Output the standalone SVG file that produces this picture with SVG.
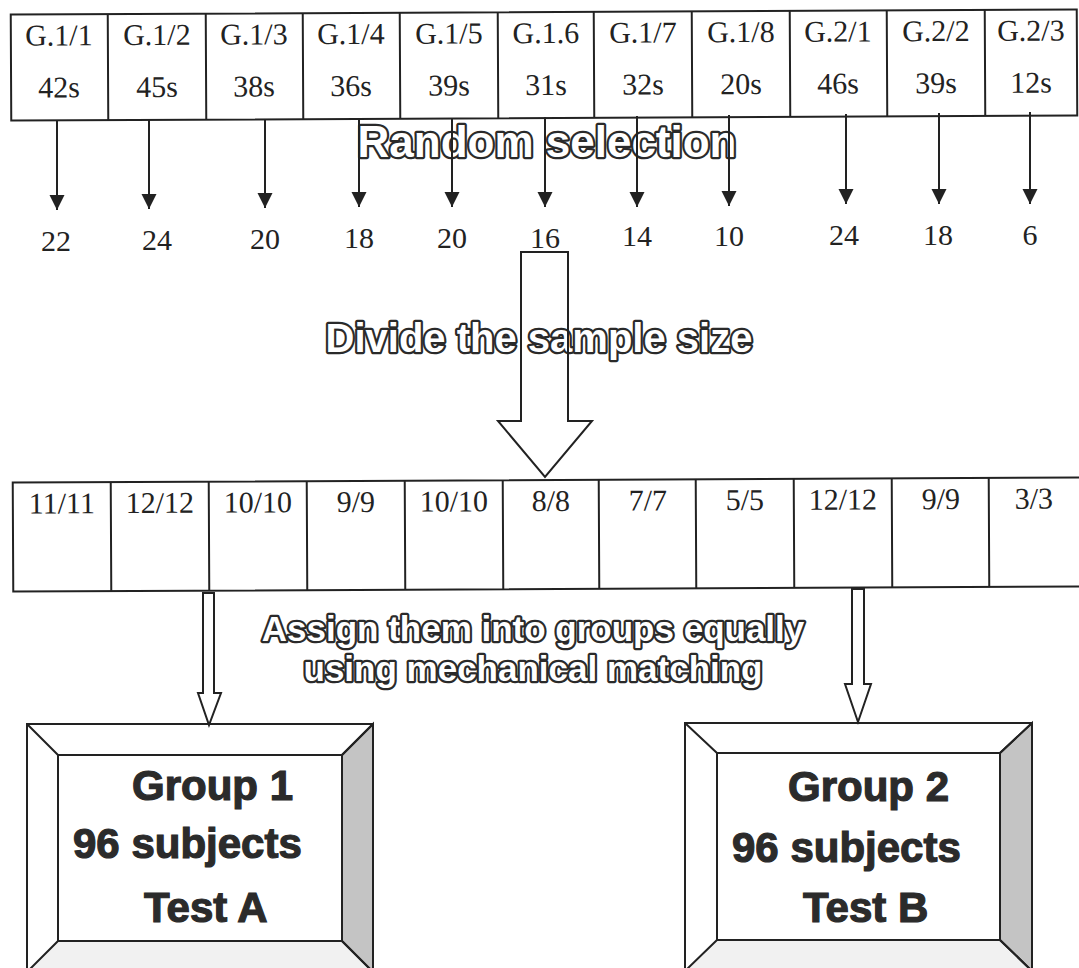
<svg xmlns="http://www.w3.org/2000/svg" width="1079" height="968" viewBox="0 0 1079 968">
<style>
.ln{stroke:#222;stroke-width:2;fill:none}
.cell{font-family:"Liberation Serif","Times New Roman",serif;font-size:30px;fill:#222;text-anchor:middle}
.outl{font-family:"Liberation Sans",Arial,sans-serif;font-weight:bold;fill:#fff;stroke:#2a2a2a;stroke-width:4.5;stroke-linejoin:round;paint-order:stroke;text-anchor:middle}
.grp{font-family:"Liberation Sans",Arial,sans-serif;font-weight:bold;font-size:42px;fill:#2b2b2b;stroke:#2b2b2b;stroke-width:1.2}
.hollow{stroke:#222;stroke-width:2;fill:#fff;stroke-linejoin:miter}
</style>
<defs>
<marker id="ah" markerUnits="userSpaceOnUse" markerWidth="16" markerHeight="16" refX="15" refY="7.5" orient="auto">
<path d="M0,0 L15,7.5 L0,15 z" fill="#222"/>
</marker>
</defs>
<rect width="1079" height="968" fill="#fff"/>

<g id="top-table" transform="rotate(-0.28 544 65)">
<rect class="ln" x="11" y="12" width="1066" height="106"/>
<path class="ln" d="M108,12V118M206,12V118M303,12V118M400,12V118M498,12V118M594,12V118M692,12V118M790,12V118M887,12V118M985,12V118"/>
<g class="cell">
<text x="59" y="43">G.1/1</text><text x="59" y="95">42s</text>
<text x="157" y="43">G.1/2</text><text x="157" y="95">45s</text>
<text x="254" y="43">G.1/3</text><text x="254" y="95">38s</text>
<text x="351" y="43">G.1/4</text><text x="351" y="95">36s</text>
<text x="449" y="43">G.1/5</text><text x="449" y="95">39s</text>
<text x="546" y="43">G.1.6</text><text x="546" y="95">31s</text>
<text x="643" y="43">G.1/7</text><text x="643" y="95">32s</text>
<text x="741" y="43">G.1/8</text><text x="741" y="95">20s</text>
<text x="838" y="43">G.2/1</text><text x="838" y="95">46s</text>
<text x="936" y="43">G.2/2</text><text x="936" y="95">39s</text>
<text x="1031" y="43">G.2/3</text><text x="1031" y="95">12s</text>
</g>
</g>

<g id="label-random">
<text class="outl" x="547" y="157" font-size="44">Random selection</text>
</g>

<g id="samples" class="cell">
<text x="56" y="251">22</text>
<text x="157" y="250">24</text>
<text x="265" y="249">20</text>
<text x="359" y="248">18</text>
<text x="452" y="248">20</text>
<text x="545" y="248">16</text>
<text x="637" y="246">14</text>
<text x="729" y="246">10</text>
<text x="844" y="245">24</text>
<text x="938" y="245">18</text>
<text x="1030" y="245">6</text>
</g>

<g id="label-divide">
<text class="outl" x="539" y="352" font-size="40">Divide the sample size</text>
</g>

<g id="mid-table" transform="rotate(-0.28 544 535)">
<path class="ln" d="M1085,480H13V589H1085"/>
<path class="ln" d="M111,480V589M209,480V589M307,480V589M405,480V589M503,480V589M599,480V589M696,480V589M794,480V589M892,480V589M989,480V589"/>
<g class="cell">
<text x="62" y="511">11/11</text>
<text x="160" y="511">12/12</text>
<text x="258" y="511">10/10</text>
<text x="356" y="511">9/9</text>
<text x="454" y="511">10/10</text>
<text x="551" y="511">8/8</text>
<text x="648" y="511">7/7</text>
<text x="745" y="511">5/5</text>
<text x="843" y="511">12/12</text>
<text x="941" y="511">9/9</text>
<text x="1034" y="511">3/3</text>
</g>
</g>

<g id="label-assign">
<text class="outl" x="533" y="641" font-size="35" stroke-width="4">Assign them into groups equally</text>
<text class="outl" x="533" y="681" font-size="35" stroke-width="4">using mechanical matching</text>
</g>

<g id="group1">
<rect class="ln" x="27" y="724" width="346" height="260"/>
<polygon points="342,755 373,724 373,972 342,941" fill="#c4c4c4"/>
<polygon points="58,941 342,941 373,972 27,972" fill="#f1f1f1"/>
<polygon points="342,755 373,724 373,972 342,941" class="ln"/>
<rect class="ln" x="58" y="755" width="284" height="186" fill="#fff"/>
<path class="ln" d="M27,724L58,755M373,724L342,755M58,941L27,972M342,941L373,972"/>
<text class="grp" x="132" y="800">Group 1</text>
<text class="grp" x="73" y="858">96 subjects</text>
<text class="grp" x="144" y="922">Test A</text>
</g>

<g id="group2">
<rect class="ln" x="685" y="723" width="347" height="260"/>
<polygon points="1000,753 1032,723 1032,971 1000,940" fill="#c4c4c4"/>
<polygon points="717,940 1000,940 1032,971 685,971" fill="#f1f1f1"/>
<polygon points="1000,753 1032,723 1032,971 1000,940" class="ln"/>
<rect class="ln" x="717" y="753" width="283" height="187" fill="#fff"/>
<path class="ln" d="M685,723L717,753M1032,723L1000,753M717,940L685,971M1000,940L1032,971"/>
<text class="grp" x="788" y="801">Group 2</text>
<text class="grp" x="732" y="862">96 subjects</text>
<text class="grp" x="803" y="922">Test B</text>
</g>

<g id="connectors">
<g class="ln" marker-end="url(#ah)">
<line x1="57" y1="120" x2="57" y2="210"/>
<line x1="149" y1="120" x2="149" y2="209"/>
<line x1="265" y1="119" x2="265" y2="208"/>
<line x1="359" y1="118" x2="359" y2="207"/>
<line x1="452" y1="118" x2="452" y2="207"/>
<line x1="545" y1="117" x2="545" y2="207"/>
<line x1="637" y1="116" x2="637" y2="207"/>
<line x1="729" y1="115" x2="729" y2="206"/>
<line x1="846" y1="114" x2="846" y2="204"/>
<line x1="939" y1="113" x2="939" y2="204"/>
<line x1="1030" y1="112" x2="1030" y2="204"/>
</g>
<polygon class="ln" points="521,252 568,252 568,421 592,421 545,477 498,421 521,421"/>
<polygon class="hollow" points="203,593 214,593 214,693 221,693 209,725 198,693 203,693"/>
<polygon class="hollow" points="852,589 864,589 864,684 871,684 858,722 845,684 852,684"/>
</g>
</svg>
